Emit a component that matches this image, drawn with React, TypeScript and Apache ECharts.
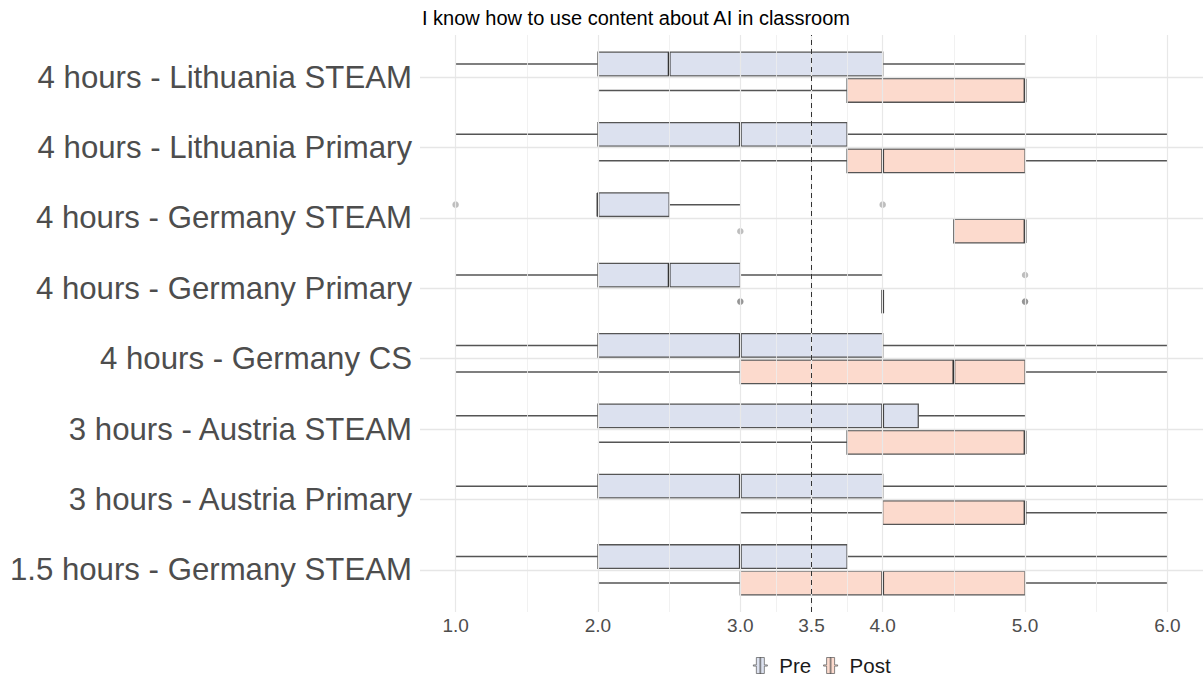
import React, { useEffect, useRef } from 'react';
import * as echarts from 'echarts';

// Categories listed bottom-to-top (y position 1..8)
const categories = [
  '1.5 hours - Germany STEAM',
  '3 hours - Austria Primary',
  '3 hours - Austria STEAM',
  '4 hours - Germany CS',
  '4 hours - Germany Primary',
  '4 hours - Germany STEAM',
  '4 hours - Lithuania Primary',
  '4 hours - Lithuania STEAM',
];

// [lower whisker, Q1, median, Q3, upper whisker]
const preStats = [
  [1, 2, 3, 3.75, 6],
  [1, 2, 3, 4, 6],
  [1, 2, 4, 4.25, 5],
  [1, 2, 3, 4, 6],
  [1, 2, 2.5, 3, 4],
  [2, 2, 2, 2.5, 3],
  [1, 2, 3, 3.75, 6],
  [1, 2, 2.5, 4, 5],
];
const postStats = [
  [2, 3, 4, 5, 6],
  [3, 4, 5, 5, 6],
  [2, 3.75, 5, 5, 5],
  [1, 3, 4.5, 5, 6],
  [4, 4, 4, 4, 4],
  [4.5, 4.5, 5, 5, 5],
  [2, 3.75, 4, 5, 6],
  [2, 3.75, 5, 5, 5],
];

// [value, category position, number of overlapping points]
const preOutliers = [
  [1, 6, 1],
  [4, 6, 1],
  [5, 5, 1],
];
const postOutliers = [
  [3, 6, 1],
  [3, 5, 2],
  [5, 5, 2],
];

const xTickValues = [1, 2, 3, 3.5, 4, 5, 6];
const xMinorGrid = [1.5, 2.5, 3.25, 3.75, 4.5, 5.5];
const referenceLine = 3.5;
const titleText = 'I know how to use content about AI in classroom';
const seriesNames = ['Pre', 'Post'];

const FONT = '"Liberation Sans", Arial, Helvetica, sans-serif';
const PRE_FILL = '#dce1ef';
const POST_FILL = '#fcdacd';
const EDGE = '#555555';

const legendIcon =
  'path://M0,7.4L3,7.4L3,0L11,0L11,7.4L14,7.4L14,8.6L11,8.6L11,16L3,16L3,8.6L0,8.6Z M6.6,0L7.4,0L7.4,16L6.6,16Z';

function makeRender(fill: string, dir: number) {
  return (params: any, api: any) => {
    const pos = api.value(0);
    const vals = [1, 2, 3, 4, 5].map((i) => api.value(i));
    const unit = api.size([0, 1])[1];
    const cy = api.coord([vals[0], pos])[1] + dir * unit * 0.188;
    const h = unit * 0.335;
    const xs = vals.map((v: number) => api.coord([v, pos])[0]);
    const children: any[] = [];
    if (xs[1] > xs[0]) {
      children.push({
        type: 'line',
        shape: { x1: xs[0], y1: cy, x2: xs[1], y2: cy },
        style: { stroke: EDGE, lineWidth: 1.5 },
      });
    }
    if (xs[4] > xs[3]) {
      children.push({
        type: 'line',
        shape: { x1: xs[3], y1: cy, x2: xs[4], y2: cy },
        style: { stroke: EDGE, lineWidth: 1.5 },
      });
    }
    if (xs[3] > xs[1]) {
      children.push({
        type: 'rect',
        shape: { x: xs[1], y: cy - h / 2, width: xs[3] - xs[1], height: h },
        style: { fill, stroke: EDGE, lineWidth: 1.3 },
      });
    }
    children.push({
      type: 'line',
      shape: { x1: xs[2], y1: cy - h / 2, x2: xs[2], y2: cy + h / 2 },
      style: { stroke: '#333333', lineWidth: 2.8 },
    });
    return { type: 'group', children };
  };
}

function outlierData(list: number[][]) {
  return list.map((o) => ({
    value: [o[0], o[1]],
    itemStyle: { color: o[2] > 1 ? '#7a7a7a' : '#adadad' },
  }));
}

export default function App() {
  const ref = useRef<HTMLDivElement>(null);

  useEffect(() => {
    if (!ref.current) return;
    const chart = echarts.init(ref.current, undefined, { renderer: 'svg' });

    const positions = categories.map((_, i) => i + 1);
    const preData = preStats.map((s, i) => [positions[i], ...s]);
    const postData = postStats.map((s, i) => [positions[i], ...s]);
    const fills = [PRE_FILL, POST_FILL];

    const gridLines: any[] = [
      ...xTickValues.map((v) => ({ xAxis: v, lineStyle: { color: '#e8e8e8', width: 1.2, type: 'solid' } })),
      ...xMinorGrid.map((v) => ({ xAxis: v, lineStyle: { color: '#eeeeee', width: 0.8, type: 'solid' } })),
      ...positions.map((p) => ({ yAxis: p, lineStyle: { color: '#e6e6e6', width: 1.4, type: 'solid' } })),
    ];

    const option: any = {
      animation: false,
      title: {
        text: titleText,
        left: 422,
        top: 8,
        padding: 0,
        textStyle: { fontFamily: FONT, fontSize: 20, fontWeight: 'normal', color: '#000000' },
      },
      legend: {
        data: seriesNames.map((n, i) => ({
          name: n,
          icon: legendIcon,
          itemStyle: { color: fills[i], borderColor: '#555555', borderWidth: 0.7 },
        })),
        left: 753,
        top: 655,
        padding: 0,
        itemWidth: 14,
        itemHeight: 16,
        itemGap: 12,
        textStyle: { fontFamily: FONT, fontSize: 20.5, lineHeight: 20, color: '#1a1a1a', padding: [0, 0, 0, 7] },
      },
      grid: { left: 420, top: 35, width: 788, height: 577, containLabel: false },
      xAxis: {
        type: 'value',
        min: 0.75,
        max: 6.25,
        axisLine: { show: false },
        axisTick: { show: false },
        splitLine: { show: false },
        axisLabel: {
          customValues: xTickValues,
          formatter: (v: number) => v.toFixed(1),
          fontFamily: FONT,
          fontSize: 19,
          color: '#4d4d4d',
          margin: 4,
        },
      },
      yAxis: {
        type: 'value',
        min: 0.4,
        max: 8.6,
        axisLine: { show: false },
        axisTick: { show: false },
        splitLine: { show: false },
        axisLabel: {
          customValues: positions,
          formatter: (v: number) => categories[Math.round(v) - 1] ?? '',
          fontFamily: FONT,
          fontSize: 31.2,
          color: '#4d4d4d',
          margin: 8,
        },
      },
      series: [
        {
          type: 'scatter',
          name: '_grid',
          data: [],
          z: 1,
          silent: true,
          markLine: {
            silent: true,
            symbol: ['none', 'none'],
            label: { show: false },
            data: gridLines,
          },
        },
        {
          type: 'custom',
          name: 'Pre',
          z: 3,
          itemStyle: { color: PRE_FILL },
          renderItem: makeRender(PRE_FILL, -1),
          encode: { x: [1, 2, 3, 4, 5], y: 0 },
          data: preData,
        },
        {
          type: 'custom',
          name: 'Post',
          z: 3,
          itemStyle: { color: POST_FILL },
          renderItem: makeRender(POST_FILL, 1),
          encode: { x: [1, 2, 3, 4, 5], y: 0 },
          data: postData,
        },
        {
          type: 'scatter',
          name: 'Pre outliers',
          z: 4,
          symbolSize: 6.5,
          symbolOffset: [0, -13.3],
          data: outlierData(preOutliers),
        },
        {
          type: 'scatter',
          name: 'Post outliers',
          z: 4,
          symbolSize: 6.5,
          symbolOffset: [0, 13.3],
          data: outlierData(postOutliers),
        },
        {
          type: 'scatter',
          name: '_ref',
          data: [],
          z: 6,
          silent: true,
          markLine: {
            silent: true,
            symbol: ['none', 'none'],
            label: { show: false },
            data: [{ xAxis: referenceLine }],
            lineStyle: { color: '#333333', width: 1, type: [5, 4] },
          },
        },
      ],
    };

    chart.setOption(option);
    return () => chart.dispose();
  }, []);

  return (
    <div
      ref={ref}
      style={{ position: 'fixed', left: 0, top: 0, width: 1203, height: 677, background: '#ffffff' }}
    />
  );
}
